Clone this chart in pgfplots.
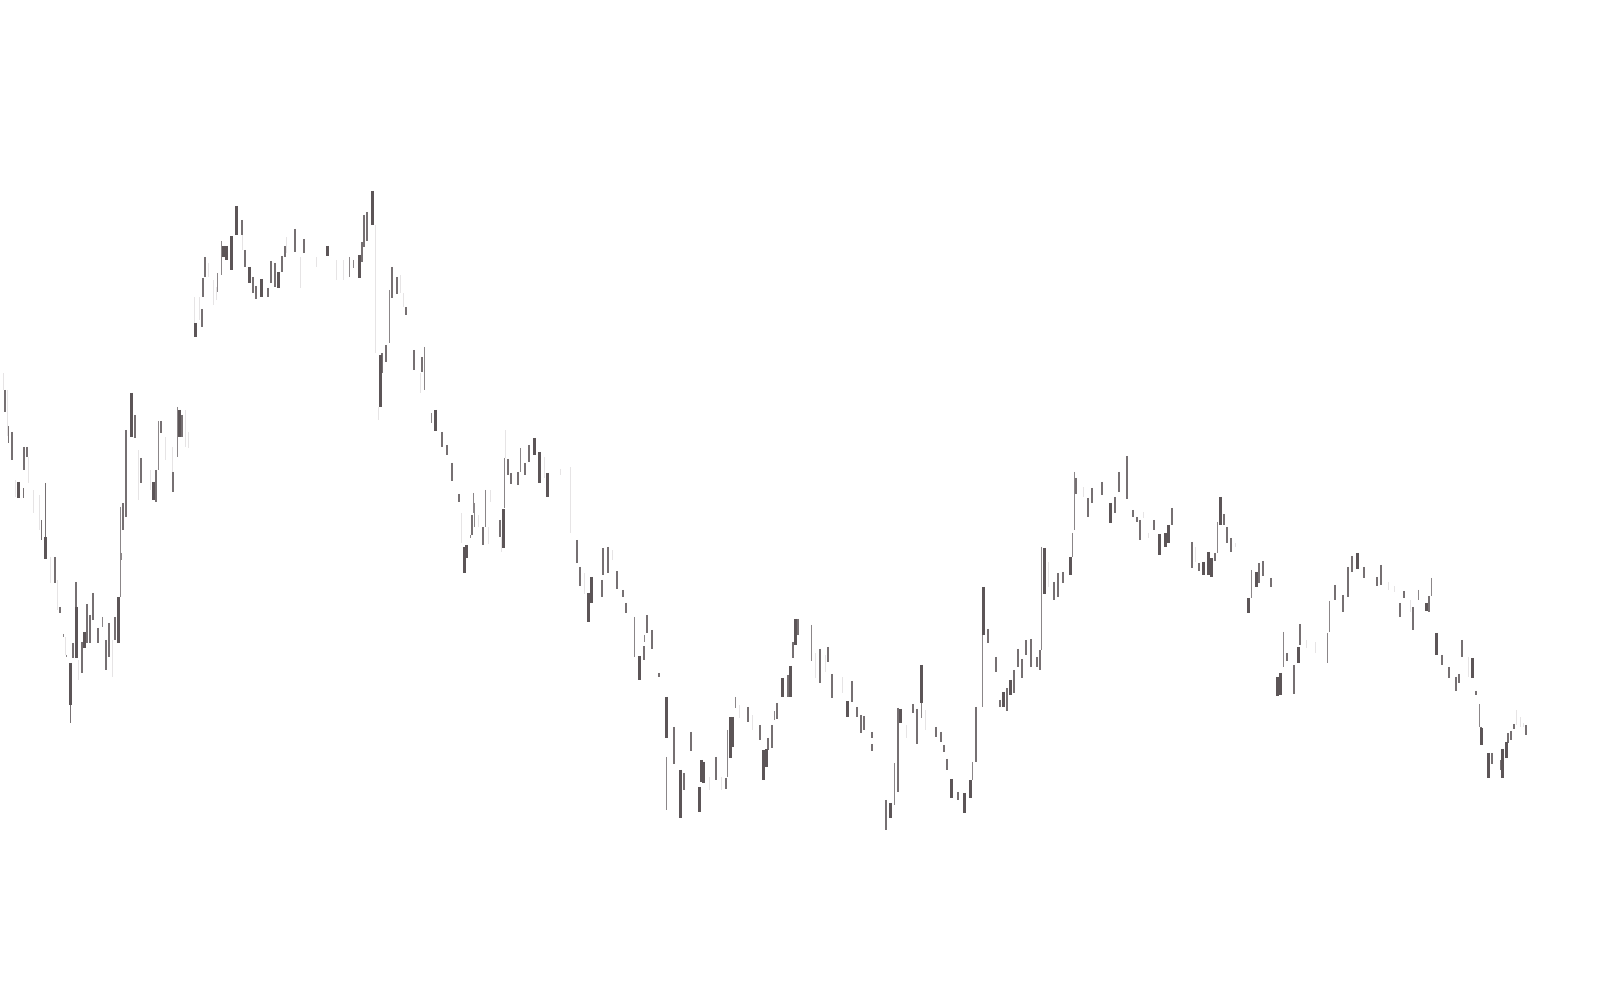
\documentclass[border=0pt]{standalone}
\usepackage{pgfplots}
\usepackage{pgfplotstable}
\pgfplotsset{compat=1.18}
\definecolor{wickdark}{HTML}{5C5557}
\definecolor{wickmid}{HTML}{767072}
\definecolor{wickthin}{HTML}{8B8688}
\definecolor{wicklight}{HTML}{E6E4E5}

% x top bot; heavy bars
\pgfplotstableread{
x top bot
18 482 498
45.5 537 559
70.5 663 705
76 607 658
84 632 648
118 597 643
131 393 437
153 482 500
179 410 437
195.7 323 337
223 246 257
226.7 246 260
231.7 236 270
236 206 235
249 267 283
261.7 279 297
278 272 288
327.7 246 256
359.3 255 278
372.7 191 225
380 355 407
435 410 431
464 547 573
466.7 545 558
503.3 509 548
534 438 455
539.3 452 483
547.3 473 497
588.3 593 622
591.3 577 603
639 656 680
666 697 738
680 770 818
699 787 812
701 760 782
703.3 762 783
730 717 758
732.3 717 747
763.3 750 780
766 749 767
782.7 678 697
790.7 666 697
795.7 619 645
847 701 717
890.7 803 818
900.7 709 723
921 665 703
951 779 798
964.3 793 813
970 780 798
983.3 587 635
1003.3 692 707
1010 680 695
1044 548 594
1070 557 575
1110 503 523
1159 534 555
1165 533 547
1168.3 525 543
1203.3 562 575
1208.7 552 575
1211.7 558 577
1220.7 497 525
1248.3 598 613
1256 572 587
1277.3 677 696
1280 673 695
1298.3 647 663
1357.7 553 569
1426 603 611
1436.7 633 655
1472.7 658 678
1481 728 745
1488.3 753 778
1502.7 749 778
1506 742 758
}\wide

% medium bars
\pgfplotstableread{
x top bot
5 390 412
8.5 426 443
11.7 432 460
24 447 470
27 447 457
23.5 488 498
41.5 520 540
45.5 483 537
55 557 583
60 607 613
70.5 705 723
72.7 643 658
76 582 607
82 642 673
86.7 604 643
90 615 643
93 593 620
97.7 628 643
106 640 670
108.7 623 657
115 617 640
123 503 530
126 430 517
135 415 438
141 458 483
155.7 470 502
160.7 421 433
173 472 492
181.7 415 437
201.7 309 327
202.7 278 297
205 257 277
241.7 220 235
244.7 250 267
252.7 277 293
255.7 286 299
267.7 288 297
271 261 283
274.7 263 287
281.7 256 272
284.7 246 257
295 229 252
304.3 239 253
361.7 242 262
364 215 247
367.3 212 241
382.3 353 373
385.7 345 362
391.7 267 298
397 277 294
406 307 315
414 350 370
421.7 357 372
442.3 432 447
447.3 445 455
451.7 463 481
459 494 502
472.3 515 535
483.3 527 545
500 520 537
508 459 475
510.7 473 484
517.7 472 485
525.3 463 475
529 445 462
576.7 540 563
580.3 567 586
602.7 548 575
602.3 580 597
607.7 547 573
617.3 571 589
623.3 590 597
626.3 603 613
644 646 660
647 615 633
651.7 630 649
659.3 673 677
673.7 727 764
684 773 790
691.3 732 751
716 757 780
726 778 789
747.7 707 722
760 725 740
768.3 738 750
772 725 748
777.3 703 719
788.3 675 697
793.3 642 658
798.3 619 635
820 649 683
827.7 647 662
832.3 674 698
852 681 702
856.7 707 717
860.7 715 733
864 716 730
871.7 732 738
871.7 744 751
886 800 830
898.3 708 792
912.7 704 713
917.3 709 744
936 727 737
940.7 732 742
944 745 752
947.3 759 770
958.3 792 800
976 707 762
988 629 643
996 657 672
1000 700 707
1007.3 688 711
1014 670 693
1018.3 649 667
1022.3 659 678
1026 640 655
1030.7 639 667
1036.7 657 667
1040 650 670
1054.3 582 600
1058.3 573 597
1063.3 572 583
1076 478 494
1087.7 498 517
1091.7 488 503
1102.3 482 495
1115.3 497 513
1119 472 492
1126.7 456 499
1133.3 510 517
1136.7 517 522
1140 520 540
1154.3 520 530
1172.3 508 525
1191.7 542 568
1199.3 563 571
1215 553 561
1224 514 525
1227.3 527 543
1231 538 552
1259 563 583
1262.7 561 576
1271 578 587
1286.7 653 661
1294.3 665 694
1300.3 624 645
1335 585 600
1342.7 595 612
1348.3 567 597
1351.7 556 572
1364 567 578
1376.7 577 586
1381 565 585
1400 603 617
1403.7 591 598
1413.3 607 630
1428.7 596 612
1441.7 655 665
1449.3 667 678
1456 677 691
1459 674 683
1462 640 657
1476 691 695
1480.7 727 745
1491.7 753 764
1500.7 760 770
1508.3 733 743
1511 731 740
1514 724 729
1526.3 725 735
}\medium

% hairline bars
\pgfplotstableread{
x top bot
63 634 637
66 655 657
102 617 627
120 507 597
121 553 560
158.7 421 470
177 407 457
217.7 273 292
221 241 275
349 257 277
353 260 268
389 290 343
424.3 347 390
431.7 413 423
470 535 538
473.3 493 513
474.7 503 527
485 490 527
504.7 458 508
520 448 472
634 617 657
644 635 642
666 757 810
727.3 730 777
735 697 708
763.3 750 780
774 711 720
811.7 625 661
894 763 805
921 703 718
972.7 762 780
982 597 707
1041.3 547 650
1072.7 533 557
1074.3 472 530
1217.7 522 553
1251 570 598
1283.7 632 667
1327.3 633 663
1329.3 601 632
1418.3 590 600
1431 578 596
1479.3 704 727
}\hair

% faint bars that nearly vanish in the white
\pgfplotstableread{
x top bot
3 373 390
7 390 436
15 480 497
28 457 483
33 490 513
39 495 530
50 557 583
57 580 610
65 637 655
78 660 680
112 640 677
138 450 500
150 470 490
165 437 460
172 447 490
185 410 447
188 432 448
194 297 337
199 297 320
208 263 277
213 280 305
216 287 300
242.7 235 250
286.7 237 253
300 257 288
316 257 267
336.7 260 280
343 260 280
375 225 353
378 407 420
400 275 293
403 293 307
420 373 393
461.7 513 543
478 515 527
488 527 544
490 490 502
501.7 537 552
505 430 458
544 457 478
560 469 475
570 467 533
584.7 573 594
612.3 550 560
709 777 790
721.7 777 790
739.3 705 718
752 715 730
815.7 653 678
825 655 672
842.3 677 693
906.7 725 738
925 710 730
1048 562 587
1083 487 497
1143.3 512 518
1148.3 533 538
1195 547 562
1235 543 547
1306.7 640 648
1315 642 653
1388.3 582 590
1394.3 586 592
1410.7 600 612
1468.7 657 677
1516.7 710 725
1520 717 727
1523 723 727
}\faint

\pgfplotsset{bar/.style n args={2}{draw=none, mark=none, forget plot,
  error bars/.cd, y dir=plus, y explicit, error mark=none,
  error bar style={draw=#1, line width=#2}}}

\begin{document}
\begin{tikzpicture}
\begin{axis}[
    hide axis, scale only axis,
    width=16cm, height=10cm,
    xmin=0, xmax=1600, ymin=0, ymax=1000,
    y dir=reverse, clip=false,
]
\addplot[bar={wicklight}{0.01cm}] table[x=x, y=top, y error expr=\thisrow{bot}-\thisrow{top}] {\faint};
\addplot[bar={wickthin}{0.009cm}] table[x=x, y=top, y error expr=\thisrow{bot}-\thisrow{top}] {\hair};
\addplot[bar={wickmid}{0.017cm}] table[x=x, y=top, y error expr=\thisrow{bot}-\thisrow{top}] {\medium};
\addplot[bar={wickdark}{0.03cm}] table[x=x, y=top, y error expr=\thisrow{bot}-\thisrow{top}] {\wide};
\end{axis}
\pgfresetboundingbox
\path[use as bounding box] (current axis.south west) rectangle (current axis.north east);
\end{tikzpicture}
\end{document}
